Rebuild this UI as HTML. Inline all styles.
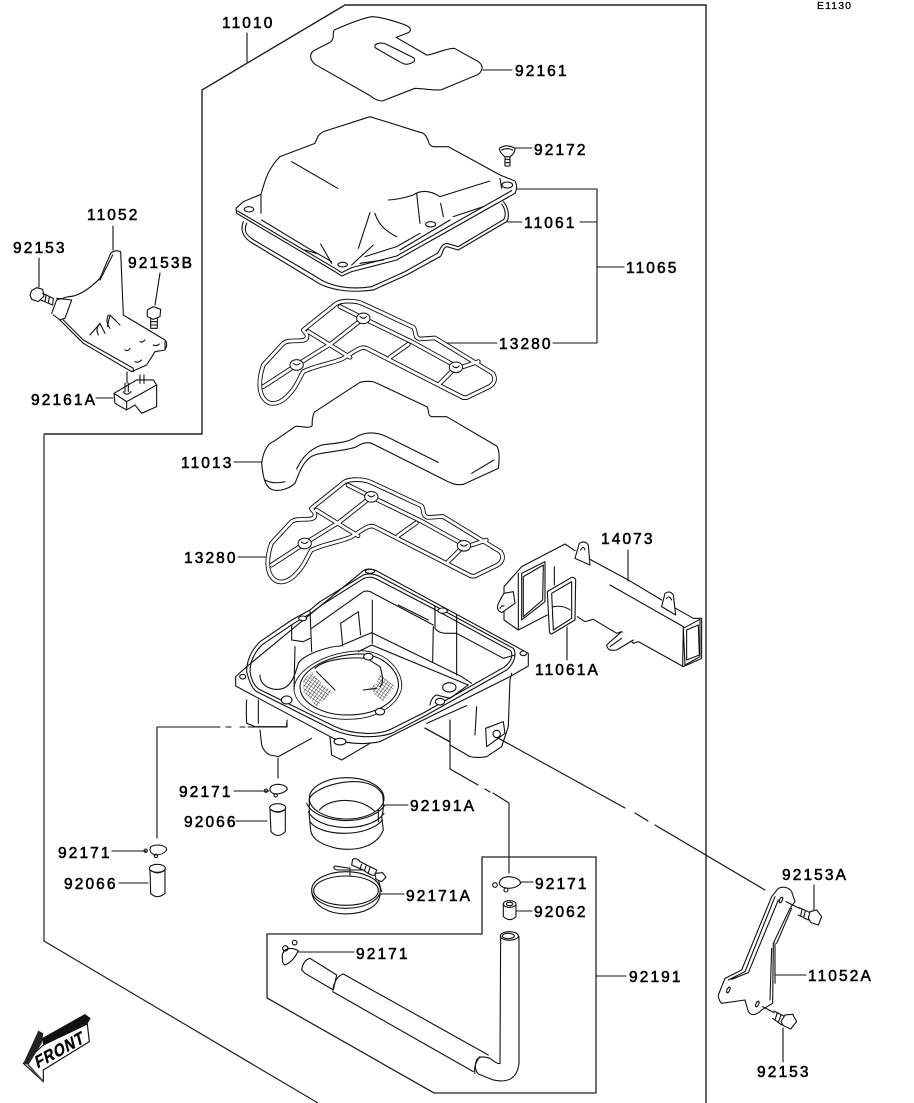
<!DOCTYPE html>
<html><head><meta charset="utf-8"><style>
html,body{margin:0;padding:0;background:#fff}
svg{display:block}
text{font-family:"Liberation Sans",sans-serif;font-size:15.5px;letter-spacing:2.1px;fill:#000;stroke:#000;stroke-width:.55px}
.l,.z{fill:none;stroke:#111;stroke-linejoin:round;stroke-linecap:round}
.l{stroke-width:1.1}
.z{stroke-width:3.3}
</style></head><body>
<svg width="914" height="1103" viewBox="0 0 914 1103" xmlns="http://www.w3.org/2000/svg">
<defs>
<pattern id="mesh" width="9" height="9" patternUnits="userSpaceOnUse" patternTransform="rotate(35)">
<path d="M0 0H9M0 0V9" stroke="#222" stroke-width="2.6" fill="none"/>
</pattern>
<g id="gk">
<path d="M310 690 L410 610 C430 600 470 602 490 612 L640 682 C650 692 640 712 660 717 L705 714 L878 820 C888 835 885 850 868 860 L800 893 L790 893 L500 745 C490 740 480 745 470 750 L430 775 C400 790 350 795 310 815 C300 830 290 860 270 880 C245 910 215 920 195 900 C175 880 175 840 190 795 L250 730 C270 715 310 730 320 715 C325 700 310 695 310 690Z M325 695 L450 772 M190 860 L290 795 L395 730 L490 655 L640 728 L770 800 L720 850 M570 772 L625 733 M790 800 L835 785 M420 620 L490 655" fill="none" stroke="#111" stroke-width="14" stroke-linejoin="round"/>
<path d="M310 690 L410 610 C430 600 470 602 490 612 L640 682 C650 692 640 712 660 717 L705 714 L878 820 C888 835 885 850 868 860 L800 893 L790 893 L500 745 C490 740 480 745 470 750 L430 775 C400 790 350 795 310 815 C300 830 290 860 270 880 C245 910 215 920 195 900 C175 880 175 840 190 795 L250 730 C270 715 310 730 320 715 C325 700 310 695 310 690Z M325 695 L450 772 M190 860 L290 795 L395 730 L490 655 L640 728 L770 800 L720 850 M570 772 L625 733 M790 800 L835 785 M420 620 L490 655" fill="none" stroke="#fff" stroke-width="8.5" stroke-linejoin="round"/>
<ellipse cx="490" cy="655" rx="20" ry="16" fill="#fff" stroke="#111" stroke-width="3"/><ellipse cx="290" cy="795" rx="20" ry="16" fill="#fff" stroke="#111" stroke-width="3"/><ellipse cx="768" cy="802" rx="20" ry="16" fill="#fff" stroke="#111" stroke-width="3"/>
<path d="M480 650Q490 660 500 650M280 790Q290 800 300 790M758 798Q768 808 778 798" fill="none" stroke="#111" stroke-width="3"/>
</g>
</defs>

<!-- frames -->
<path d="M44 434H202V90L345 5H706V1103" fill="none" stroke="#222" stroke-width="1.4"/>
<path d="M44 434V941L318 1103" fill="none" stroke="#222" stroke-width="1.2"/>
<path d="M267 934V998L434 1093H596V857H482V934Z" fill="none" stroke="#222" stroke-width="1.3"/>

<!-- leaders -->
<path class="l" d="M247 33V62M483 70H512M515 148H532M507 222H522M580 222H597M517 189H597V343H553M597 267H624M447 343H497M113 226V250M39 258V287M160 273L155 305M96 398H113M127 372V383M234 462H262M238 557H266M628 550V581M567 627V660M385 805H408M381 894H404M112 851H146M119 883H148M234 791H269M236 821H267M520 882H533M516 911H532M298 952H354M596 976H626M776 975H806M814 885V910M783 1028V1062"/>
<path class="l" d="M157 838V727H220M226 727H231M240 727H245M248 727H287V720M278 758V778M450 720V769L478 785M485 789L490 792M493 793L509 803V873M425 728L450 742M498 738L625 808M635 813L648 821M655 825L765 890"/>

<!-- gasket 92161 -->
<g transform="translate(295 5) scale(.3333)" class="z">
<path d="M118 75C130 70 190 42 230 35C260 35 320 55 335 62C350 70 350 80 335 85L303 97L395 150C405 153 450 130 478 130L550 170C565 180 565 195 550 208L440 254C420 258 380 250 360 250L262 288C250 288 235 280 225 272L60 178C45 165 40 145 60 135L105 112C122 100 110 85 118 75Z"/>
<path d="M240 120C250 112 265 113 275 118L355 158C365 165 355 175 335 178C325 178 315 170 310 168L240 128Z"/>
</g>

<!-- cover 11061 + gaskets -->
<g transform="translate(200 100) scale(.3333)" class="z">
<path d="M130 365C120 390 130 410 150 425L340 540C380 570 450 580 520 570L620 525L720 470C730 465 725 445 740 440L775 450L920 365C930 350 925 320 910 305"/>
<path d="M140 370C130 395 140 405 158 418L348 530C390 560 450 570 515 560L615 515L712 460C722 450 720 435 740 430L775 440L912 358C918 345 918 330 905 312"/>
<path d="M108 325L130 305L183 283C195 240 205 205 240 170L345 130C355 105 355 105 370 95L510 50L670 100C690 115 680 135 700 140H745L900 225L945 243Q955 260 945 280L590 480L455 515L425 528L405 515L110 340Z" fill="#fff"/>
<path d="M113 333L405 505L425 518L455 503L590 468L935 272"/>
<path d="M275 185L413 265M565 300C600 298 625 290 640 285C660 270 690 270 720 290L870 243M650 280L660 370M722 310L730 350M760 350L850 320M510 338L475 445M525 340C535 375 560 395 590 410M362 432L395 490M455 495L520 435M185 360L325 445L395 485M315 450L355 462M495 470L590 440L660 400M480 490L550 480M600 450L750 360M183 283L183 340"/>
<ellipse cx="147" cy="328" rx="14" ry="8"/><ellipse cx="922" cy="255" rx="16" ry="9"/><ellipse cx="692" cy="373" rx="15" ry="8"/><ellipse cx="428" cy="494" rx="14" ry="7"/>
<path d="M900 235L905 265"/>
<!-- screw -->
<path d="M898 145Q920 130 945 145Q945 160 930 170H915Q900 160 898 145ZM915 170V198H930V170M915 178H930M915 188H930M905 150Q920 142 938 150" fill="#fff"/>
<use href="#gk"/>
</g>

<!-- foam 11013 -->
<g transform="translate(250 375) scale(.3333)" class="z">
<path d="M35 265C40 225 55 205 70 200L135 155C150 150 180 165 187 150C185 135 190 115 195 110L330 22C345 18 365 18 375 22L530 95C540 105 530 120 545 125L590 125L740 213C750 225 748 260 745 280L640 328C620 332 605 325 590 318L365 205C350 200 335 205 320 215C300 225 240 230 215 235C180 240 170 255 160 270C150 285 145 300 135 325C120 340 90 350 70 345C50 340 40 320 35 265Z"/>
<path d="M140 282C155 250 175 225 215 210C250 205 290 205 320 185C345 170 380 170 410 185L565 262M665 295L732 255M45 315C60 325 90 325 105 320"/>
</g>

<!-- lower gasket 13280 -->
<g transform="translate(208 278.5) scale(.3333)" class="z">
<use href="#gk"/>
</g>

<!-- air box -->
<g transform="translate(220 560) scale(.3333)" class="z">
<path d="M80 420Q78 440 80 490L105 500H200V490M115 420V490M120 510L125 555Q130 575 150 585L175 590L275 535M330 530L335 585L365 600L450 550M875 340L870 360L865 500L845 560L800 590Q770 595 750 590L690 555V480M770 440L765 525M740 437L620 490M615 505L690 545"/>
<path d="M47 350L80 320L430 32Q450 20 480 38L925 280V318L870 350L480 545Q400 560 340 535L47 378Z"/>
<path d="M80 335C80 290 105 260 120 245L215 180L270 150L300 125L430 45C445 40 460 40 480 50L640 135L880 265C890 280 885 310 860 330L620 465L515 520C470 535 400 535 340 510L110 395C95 385 85 355 80 335Z"/>
<path d="M90 335C90 295 110 270 128 253L222 190L275 158L305 135L432 55C447 50 458 50 475 60L638 145L872 272C880 285 875 305 852 322L612 458L508 510C470 525 400 525 345 500L118 388C100 378 92 350 90 335Z"/>
<path d="M275 205L430 95Q445 90 460 100L640 195M457 120V250M640 200L638 305M645 140V205Q655 220 680 220H710L850 295L885 285M710 165V345M535 135L625 180M215 195V240L250 245L270 235M270 150L275 275M225 260L222 390M362 190L415 155L422 225M362 190L368 258"/>
<path d="M120 345C120 380 160 395 190 385C215 375 225 345 235 310C250 285 320 260 360 258L455 218L725 350L755 370M415 275L455 255L745 375M630 435Q635 410 650 405L690 415L745 375"/>
<path d="M240 380C240 330 330 280 430 282C500 290 540 340 535 380C530 420 480 465 380 465C310 465 240 430 240 380Z"/>
<path d="M222 385C225 330 320 272 430 272C510 280 550 340 545 385C535 430 480 478 380 478C300 478 222 440 222 385Z" stroke-width="2.6"/>
<path d="M285 325C310 300 380 290 440 295L480 320C490 350 490 370 480 380M290 335L345 390M470 385L430 390"/>
<path d="M250 360L275 335L310 375L340 395L290 440L250 395Z" fill="url(#mesh)" stroke="none"/>
<path d="M480 340L525 380L490 425L445 385L470 370Z" fill="url(#mesh)" stroke="none"/>
<g fill="#fff">
<ellipse cx="445" cy="290" rx="14" ry="10"/><ellipse cx="480" cy="455" rx="14" ry="10"/><ellipse cx="200" cy="420" rx="16" ry="12"/><ellipse cx="360" cy="545" rx="18" ry="10"/>
<ellipse cx="660" cy="425" rx="14" ry="10"/><ellipse cx="668" cy="152" rx="14" ry="8"/><ellipse cx="248" cy="175" rx="12" ry="7"/><ellipse cx="910" cy="280" rx="10" ry="7"/><ellipse cx="68" cy="350" rx="9" ry="7"/><ellipse cx="688" cy="382" rx="20" ry="14"/><ellipse cx="450" cy="34" rx="14" ry="6"/>
</g>
<path d="M797 505L850 485L855 520L800 560Z" fill="#fff"/>
<circle cx="830" cy="522" r="11" fill="#fff"/>
</g>

<!-- duct 14073 -->
<g transform="translate(490 530) scale(.3333)" class="z">
<path d="M42 170L95 110L225 42L255 62M300 88L415 150L515 210M557 235L610 265L635 265V385L580 410L445 335L430 340L395 305L380 310L310 268L285 275L262 260M42 170V270L85 300L172 255"/>
<path d="M360 165L580 290L578 410M580 295L630 268V380L585 405ZM590 300L625 285L628 375L590 390ZM95 130L165 95L165 215L95 270ZM100 140L160 105L158 210L100 260ZM85 130V300M193 110V165"/>
<path d="M42 190L70 185L75 220L35 248C15 240 20 225 42 190Z" fill="#fff"/>
<path d="M30 235Q35 225 42 228"/>
<path d="M255 85L268 40Q285 30 295 45L300 105Z" fill="#fff"/><path d="M515 230L525 190Q540 180 550 195L557 255Z" fill="#fff"/>
<path d="M272 60Q280 45 285 60M530 205Q538 195 545 210"/>
<path d="M395 305L350 345Q352 365 380 360L430 330" fill="#fff"/><path d="M360 350L395 325"/>
<path d="M172 185L245 142Q255 142 257 150L255 270L185 312Q178 312 178 300Z" fill="#fff"/>
<path d="M185 190L245 155V265L190 300ZM190 230Q220 225 240 240"/>
</g>

<!-- left bracket 11052 -->
<g transform="translate(20 200) scale(.3333)" class="z">
<path d="M95 340L110 300L145 290C180 290 215 260 240 235L272 160Q285 148 302 155L310 345L435 420Q445 430 435 450L405 455L380 495L335 515L190 430L120 360L100 345"/>
<path d="M118 360L135 355L155 300L110 295M130 360L190 420L340 505V515M240 240L278 165M210 405L240 370L255 400M262 380L270 345L300 375M240 372Q225 385 235 405M265 345Q255 365 270 385M315 450Q325 455 330 445M360 425Q365 430 375 420M400 435Q410 440 418 432M345 485Q355 490 365 480M435 425V445"/>
<path d="M35 272L50 263L68 268L72 288L55 305L35 298L30 285Z" fill="#fff"/>
<path d="M68 280L100 295L98 315L62 300M78 285L75 305M88 290L85 310"/>
<path d="M382 330L400 320L422 328L420 350L400 358L382 350Z" fill="#fff"/>
<path d="M392 356V385H412V355M392 365H412M392 375H412"/>
<path d="M282 580L350 540L400 540L410 555V620L365 640L345 615L320 630L285 610Z" fill="#fff"/>
<path d="M282 580L320 605V630M320 605L410 555M315 550V575M325 550V575M360 525V550M372 525V550M310 575Q320 590 333 575"/>
</g>

<!-- cups & rings -->
<g transform="translate(130 780) scale(.3333)" class="z">
<path d="M60 208Q60 195 85 195Q110 197 110 210Q100 225 75 225Q60 220 60 208Z"/><circle cx="47" cy="212" r="5"/><circle cx="78" cy="228" r="5"/>
<ellipse cx="82" cy="265" rx="24" ry="12"/><path d="M60 270L62 340Q82 360 105 340V270M64 272Q82 285 102 272"/>
<path d="M420 28Q420 14 445 13Q470 15 472 28Q460 42 435 42Q420 38 420 28Z"/><circle cx="408" cy="32" r="5"/><circle cx="437" cy="46" r="5"/>
<ellipse cx="443" cy="83" rx="24" ry="12"/><path d="M420 88L423 155Q443 178 466 155V88M424 90Q443 103 463 90"/>
</g>

<g transform="translate(260 770) scale(.3333)" class="z">
<!-- rubber boot -->
<path d="M148 88C160 45 330 0 368 75C372 105 370 125 365 140L370 180C350 230 290 245 230 235C190 225 155 210 152 180L148 140Z"/>
<ellipse cx="260" cy="85" rx="112" ry="62"/>
<path d="M178 120C195 100 230 88 270 92C305 95 330 110 345 125M140 100C165 160 325 175 375 105M145 125C175 185 330 190 372 130M150 155C180 200 320 205 368 150M355 120V155"/>
<!-- clamp -->
<ellipse cx="258" cy="360" rx="103" ry="55"/>
<ellipse cx="258" cy="362" rx="97" ry="44"/>
<path d="M155 365C160 410 210 432 258 432C310 432 360 410 360 370M355 330L365 365"/>
<path d="M225 288L270 295V318M225 288Q215 295 232 300L335 300"/>
<path d="M278 268Q290 262 300 275L350 300L345 315Q335 320 310 300L275 285Z" fill="#fff"/>
<path d="M305 283L300 298M318 288L313 303M330 293L325 308"/>
<path d="M345 310L368 308L378 322L365 335L348 328Z" fill="#fff"/>
<!-- hose -->
<path d="M125 600Q130 570 150 565L230 615L220 660L135 610Z"/>
<path d="M218 660Q225 620 250 612L685 855M218 665L640 905"/>
<path d="M722 500L720 880Q715 885 690 865Q660 855 650 870Q640 895 655 912L700 930Q770 945 777 880V500"/>
<ellipse cx="748" cy="498" rx="27" ry="13"/><ellipse cx="745" cy="498" rx="18" ry="8"/>
<path d="M660 860Q640 885 645 910"/>
<!-- ring 92171 left -->
<path d="M68 570C62 545 80 525 115 542Q100 575 75 585Q66 580 68 570Z"/><circle cx="76" cy="535" r="8"/><circle cx="104" cy="518" r="7"/>
<!-- ring right -->
<path d="M718 340Q720 322 745 320Q780 322 782 340Q770 355 745 355Q720 352 718 340Z"/><circle cx="705" cy="345" r="7"/><circle cx="738" cy="360" r="6"/>
<!-- 92062 -->
<ellipse cx="749" cy="402" rx="19" ry="10"/><ellipse cx="749" cy="402" rx="10" ry="5"/><path d="M730 405V440Q750 458 768 440V405"/>
</g>

<!-- right bracket -->
<g transform="translate(700 860) scale(.3333)" class="z">
<path d="M55 405L75 355L125 330L215 110L235 85Q260 75 275 95L285 125L270 145L220 250L218 430L185 450Q160 475 145 455L135 420L65 430Q55 420 55 405Z"/>
<path d="M85 360L135 335L225 110M95 358L145 338L235 120M230 250L275 145M225 250V370M215 265L210 420"/>
<ellipse cx="85" cy="390" rx="4" ry="9" transform="rotate(25 85 390)"/><ellipse cx="243" cy="120" rx="4" ry="9" transform="rotate(25 243 120)"/><ellipse cx="172" cy="432" rx="4" ry="9" transform="rotate(25 172 432)"/>
<path d="M258 125L298 145M188 440L222 458"/>
<path d="M298 143L330 158L325 180L295 165M306 148L302 168M316 153L311 173"/>
<path d="M330 155L350 150L365 170L355 195L333 188L325 175Z" fill="#fff"/>
<path d="M222 453L255 470L245 495L218 475M232 458L225 480M243 465L235 487"/>
<path d="M255 465L278 463L290 485L272 507L250 497L243 485Z" fill="#fff"/>
</g>

<!-- FRONT arrow -->
<g transform="translate(0 1010) scale(.3333)">
<path d="M70 160L130 105L262 42L268 95L130 180V215Z" fill="#fff" stroke="#111" stroke-width="3.5" stroke-linejoin="round"/>
<path d="M125 85L255 12L272 25L262 42L130 105Z" fill="#111"/>
<path d="M70 160L115 62L130 70L125 100L85 165Z" fill="#222"/>
<path d="M85 165L130 215" stroke="#444" stroke-width="5"/>
<text transform="translate(112 176) rotate(-29) skewX(-14) scale(1 1.1)" style="font-size:46px;font-weight:bold;letter-spacing:3px;stroke-width:1px" textLength="165" lengthAdjust="spacingAndGlyphs">FRONT</text>
</g>

<!-- labels -->
<text x="817" y="9" style="font-size:10.5px;letter-spacing:1.1px;stroke-width:.25px">E1130</text>
<text x="222" y="28">11010</text>
<text x="515" y="76">92161</text>
<text x="534" y="155">92172</text>
<text x="524" y="228">11061</text>
<text x="626" y="273">11065</text>
<text x="499" y="349">13280</text>
<text x="87" y="220">11052</text>
<text x="13" y="253">92153</text>
<text x="128" y="268">92153B</text>
<text x="31" y="405">92161A</text>
<text x="181" y="468">11013</text>
<text x="184" y="563">13280</text>
<text x="601" y="544">14073</text>
<text x="535" y="675">11061A</text>
<text x="179" y="797">92171</text>
<text x="184" y="827">92066</text>
<text x="410" y="811">92191A</text>
<text x="58" y="858">92171</text>
<text x="64" y="889">92066</text>
<text x="406" y="901">92171A</text>
<text x="535" y="889">92171</text>
<text x="534" y="917">92062</text>
<text x="356" y="959">92171</text>
<text x="629" y="982">92191</text>
<text x="782" y="880">92153A</text>
<text x="808" y="981">11052A</text>
<text x="757" y="1077">92153</text>
</svg>
</body></html>
